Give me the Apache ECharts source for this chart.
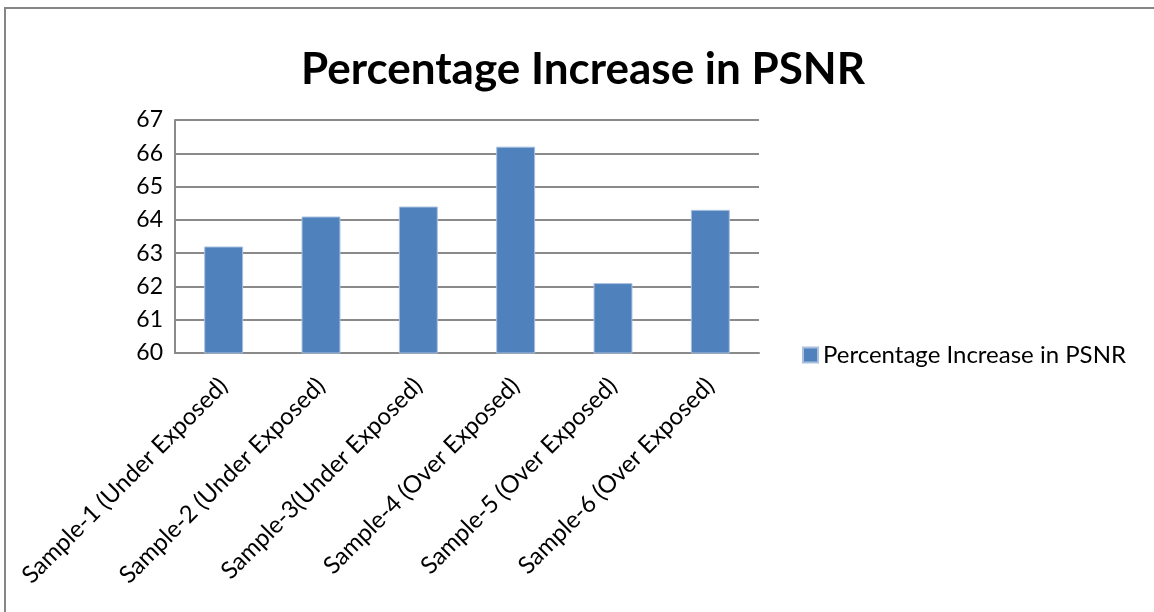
<!DOCTYPE html>
<html>
<head>
<meta charset="utf-8">
<title>Percentage Increase in PSNR</title>
<script src="https://cdn.jsdelivr.net/npm/echarts@6/dist/echarts.min.js"></script>
<style>
  html, body { margin: 0; padding: 0; background: #ffffff; }
  #chart { width: 1154px; height: 612px; }
</style>
</head>
<body>
<div id="chart"></div>
<script>
// Chart data
const chartTitle = 'Percentage Increase in PSNR';
const seriesName = 'Percentage Increase in PSNR';
const categories = [
  'Sample-1 (Under Exposed)',
  'Sample-2 (Under Exposed)',
  'Sample-3(Under Exposed)',
  'Sample-4 (Over Exposed)',
  'Sample-5 (Over Exposed)',
  'Sample-6 (Over Exposed)'
];
const psnrIncrease = [63.2, 64.1, 64.4, 66.2, 62.1, 64.3];
const yMin = 60;
const yMax = 67;
const yStep = 1;

const FONT = 'Lato, "Open Sans", sans-serif';
const GRID_GRAY = '#8a8a8a';

const chart = echarts.init(document.getElementById('chart'), null, { renderer: 'canvas' });

chart.setOption({
  backgroundColor: '#ffffff',
  animation: false,
  title: {
    text: chartTitle,
    left: 578,
    textAlign: 'center',
    top: 43,
    textStyle: { fontFamily: FONT, fontWeight: 'bold', fontSize: 44, color: '#000000' }
  },
  legend: {
    data: [seriesName],
    left: 797,
    top: 338,
    itemWidth: 15,
    itemHeight: 15,
    itemGap: 8,
    icon: 'rect',
    textStyle: { fontFamily: FONT, fontSize: 24, color: '#000000', padding: [0, 0, 0, 0] }
  },
  grid: {
    left: 175,
    top: 120,
    right: 395,
    bottom: 259
  },
  xAxis: {
    type: 'category',
    data: categories,
    axisLine: { show: true, lineStyle: { color: GRID_GRAY, width: 2 } },
    axisTick: { show: false },
    axisLabel: {
      rotate: 45,
      interval: 0,
      margin: 29,
      fontFamily: FONT,
      fontSize: 24,
      color: '#000000'
    }
  },
  yAxis: {
    type: 'value',
    min: yMin,
    max: yMax,
    interval: yStep,
    axisLine: { show: true, lineStyle: { color: GRID_GRAY, width: 2 } },
    axisTick: { show: false },
    axisLabel: {
      margin: 12,
      fontFamily: FONT,
      fontSize: 23,
      color: '#000000'
    },
    splitLine: { show: true, lineStyle: { color: GRID_GRAY, width: 2 } }
  },
  series: [{
    name: seriesName,
    type: 'bar',
    data: psnrIncrease,
    barWidth: '40%',
    itemStyle: { color: '#4f81bd', borderColor: '#a9c1df', borderWidth: 1 }
  }],
  graphic: [{
    type: 'polyline',
    silent: true,
    shape: { points: [[5, 612], [5, 8], [1154, 8]] },
    style: { stroke: '#868686', lineWidth: 2, fill: null }
  }]
});
</script>
</body>
</html>
